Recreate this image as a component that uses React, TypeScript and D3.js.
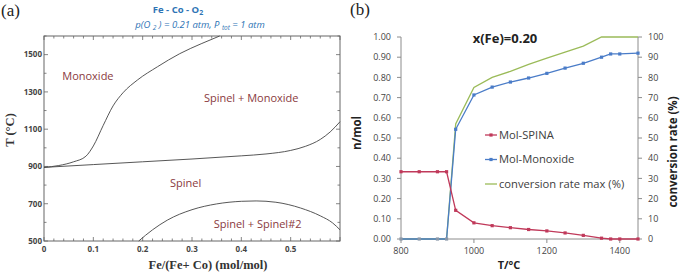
import * as React from 'react'
import * as d3 from 'd3'

// ---- panel (a): Fe-Co-O2 phase diagram boundaries (x = Fe/(Fe+Co), T in °C)
const monoxideBoundary: [number, number][] = [
    [0, 895], [0.03, 905], [0.06, 925], [0.085, 955], [0.1, 1010], [0.12, 1120],
    [0.14, 1225], [0.16, 1295], [0.19, 1365], [0.23, 1435], [0.275, 1505],
    [0.32, 1560], [0.356, 1600],
]
const spinelBoundary: [number, number][] = [
    [0, 895], [0.1, 910], [0.2, 925], [0.3, 940], [0.4, 957], [0.45, 967],
    [0.5, 986], [0.53, 1008], [0.56, 1045], [0.58, 1085], [0.6, 1140],
]
const miscibilityGap: [number, number][] = [
    [0.192, 500], [0.22, 560], [0.25, 612], [0.3, 668], [0.35, 699], [0.4, 713],
    [0.43, 715], [0.47, 708], [0.52, 677], [0.56, 635], [0.585, 597], [0.6, 560],
]
const phaseLabels = [
    { text: 'Monoxide', x: 0.089, t: 1364 },
    { text: 'Spinel + Monoxide', x: 0.42, t: 1246 },
    { text: 'Spinel', x: 0.287, t: 790 },
    { text: 'Spinel + Spinel#2', x: 0.433, t: 570 },
]
const tTicks = [500, 700, 900, 1100, 1300, 1500]
const xfTicks = [0, 0.1, 0.2, 0.3, 0.4, 0.5]

// ---- panel (b): x(Fe)=0.20
const temps = [800, 850, 900, 925, 950, 1000, 1050, 1100, 1150, 1200, 1250, 1300, 1350, 1375, 1400, 1450]
const molSpinel = [0.333, 0.333, 0.333, 0.333, 0.142, 0.08, 0.066, 0.056, 0.047, 0.04, 0.03, 0.018, 0.004, 0, 0, 0]
const molMonoxide = [0, 0, 0, 0, 0.543, 0.713, 0.752, 0.777, 0.797, 0.82, 0.846, 0.87, 0.9, 0.916, 0.916, 0.92]
const convMax = [0, 0, 0, 0, 57, 75, 80, 83, 86.5, 89.5, 92.5, 95.5, 100, 100, 100, 100]
const nTicks = [0, 0.1, 0.2, 0.3, 0.4, 0.5, 0.6, 0.7, 0.8, 0.9, 1.0]
const pctTicks = [0, 10, 20, 30, 40, 50, 60, 70, 80, 90, 100]
const tempTicks = [800, 1000, 1200, 1400]
const legendItems = [
    { name: 'Mol-SPINA', color: '#c0395a', marker: true },
    { name: 'Mol-Monoxide', color: '#4a7cc8', marker: true },
    { name: 'conversion rate max (%)', color: '#9bbb59', marker: false },
]

const LABEL_RED = '#8a3a3e'
const TITLE_BLUE = '#2e74b5'
const SANS = '"Open Sans", "Noto Sans", sans-serif'
const SERIF = '"Liberation Serif", "DejaVu Serif", serif'

function PhaseDiagram() {
    const x = d3.scaleLinear().domain([0, 0.6]).range([44, 340])
    const y = d3.scaleLinear().domain([500, 1600]).range([241, 36])
    const line = d3.line<[number, number]>()
        .x(d => x(d[0]))
        .y(d => y(d[1]))
        .curve(d3.curveMonotoneX)
    const frame = '#666'
    const minorX = d3.range(0, 0.6001, 0.02)
    const minorY = d3.range(500, 1601, 100)

    return <g>
        <text x={1} y={16} fontFamily={SERIF} fontSize={17} fill="#222">(a)</text>
        <text x={178} y={13} textAnchor="middle" fontFamily={SANS} fontSize={9.5} fontWeight="bold" fill={TITLE_BLUE}>
            Fe - Co - O<tspan fontSize={7} dy={2}>2</tspan>
        </text>
        <text x={200} y={28} textAnchor="middle" fontFamily={SANS} fontSize={9.5} fontStyle="italic" fill={TITLE_BLUE}>
            p(O <tspan fontSize={6.5} dy={2}>2</tspan><tspan dy={-2}> ) = 0.21 atm, P </tspan>
            <tspan fontSize={6.5} dy={2}>tot</tspan><tspan dy={-2}>  = 1 atm</tspan>
        </text>

        <rect x={x(0)} y={y(1600)} width={x(0.6) - x(0)} height={y(500) - y(1600)} fill="none" stroke={frame} strokeWidth={1} />
        {minorX.map((v, i) => {
            const major = Math.abs(v * 10 - Math.round(v * 10)) < 1e-6
            const len = major ? 4 : 2.5
            return <g key={i} stroke={frame} strokeWidth={0.8}>
                <line x1={x(v)} x2={x(v)} y1={y(500)} y2={y(500) - len} />
                <line x1={x(v)} x2={x(v)} y1={y(1600)} y2={y(1600) + len} />
            </g>
        })}
        {minorY.map((v, i) => {
            const len = v % 200 === 100 ? 4 : 2.5
            return <g key={i} stroke={frame} strokeWidth={0.8}>
                <line x1={x(0)} x2={x(0) + len} y1={y(v)} y2={y(v)} />
                <line x1={x(0.6)} x2={x(0.6) - len} y1={y(v)} y2={y(v)} />
            </g>
        })}
        {tTicks.map(t =>
            <text key={t} x={x(0) - 2} y={y(t)} dy="0.35em" textAnchor="end" fontFamily={SANS} fontSize={8} fontWeight="bold" fill="#444">{t}</text>
        )}
        {xfTicks.map(v =>
            <text key={v} x={x(v)} y={252} textAnchor="middle" fontFamily={SANS} fontSize={8} fontWeight="bold" fill="#444">{v}</text>
        )}

        <g fill="none" stroke="#444" strokeWidth={0.9}>
            <path d={line(monoxideBoundary)!} />
            <path d={line(spinelBoundary)!} />
            <path d={line(miscibilityGap)!} />
        </g>

        {phaseLabels.map(l =>
            <text key={l.text} x={x(l.x)} y={y(l.t)} textAnchor="middle" fontFamily={SANS} fontSize={11} fill={LABEL_RED}>{l.text}</text>
        )}

        <text x={208} y={269} textAnchor="middle" fontFamily={SERIF} fontSize={12.5} fontWeight="bold" fill="#333">Fe/(Fe+ Co) (mol/mol)</text>
        <text transform="translate(14 130) rotate(-90)" textAnchor="middle" fontFamily={SERIF} fontSize={12.5} fontWeight="bold" fill="#333">T (°C)</text>
    </g>
}

function ConversionChart() {
    const x = d3.scaleLinear().domain([800, 1450]).range([401, 638])
    const yN = d3.scaleLinear().domain([0, 1]).range([239, 37])
    const yP = d3.scaleLinear().domain([0, 100]).range([239, 37])
    const axis = '#8c8c8c'

    const lineN = d3.line<number>().x((_, i) => x(temps[i])).y(d => yN(d))
    const lineP = d3.line<number>().x((_, i) => x(temps[i])).y(d => yP(d))

    const marker = (cx: number, cy: number, color: string, key: number) =>
        <rect key={key} x={cx - 1.6} y={cy - 1.6} width={3.2} height={3.2} fill={color} />

    return <g>
        <text x={350} y={15} fontFamily={SERIF} fontSize={17} fill="#222">(b)</text>

        <g stroke={axis} strokeWidth={1}>
            <line x1={x(800)} x2={x(800)} y1={yN(0)} y2={yN(1)} />
            <line x1={x(1450)} x2={x(1450)} y1={yN(0)} y2={yN(1)} />
            <line x1={x(800)} x2={x(1450)} y1={yN(0)} y2={yN(0)} />
            {nTicks.map(v => <line key={v} x1={x(800) - 4} x2={x(800)} y1={yN(v)} y2={yN(v)} />)}
            {pctTicks.map(v => <line key={v} x1={x(1450)} x2={x(1450) + 4} y1={yP(v)} y2={yP(v)} />)}
            {tempTicks.map(v => <line key={v} x1={x(v)} x2={x(v)} y1={yN(0)} y2={yN(0) + 4} />)}
        </g>

        {nTicks.map(v =>
            <text key={v} x={391} y={yN(v)} dy="0.35em" textAnchor="end" fontFamily={SANS} fontSize={9} fill="#444">{v.toFixed(2)}</text>
        )}
        {pctTicks.map(v =>
            <text key={v} x={648} y={yP(v)} dy="0.35em" fontFamily={SANS} fontSize={9} fill="#444">{v}</text>
        )}
        {tempTicks.map(v =>
            <text key={v} x={x(v)} y={254} textAnchor="middle" fontFamily={SANS} fontSize={9} fill="#444">{v}</text>
        )}

        <g fill="none" strokeWidth={1.3}>
            <path d={lineP(convMax)!} stroke={legendItems[2].color} />
            <path d={lineN(molMonoxide)!} stroke={legendItems[1].color} />
            <path d={lineN(molSpinel)!} stroke={legendItems[0].color} />
        </g>
        {molMonoxide.map((v, i) => marker(x(temps[i]), yN(v), v === 0 ? '#8a97a8' : legendItems[1].color, i))}
        {molSpinel.map((v, i) => marker(x(temps[i]), yN(v), legendItems[0].color, i))}

        <text x={505} y={43} textAnchor="middle" fontFamily={SANS} fontSize={13} fontWeight="bold" fill="#222">x(Fe)=0.20</text>

        {legendItems.map((item, i) => {
            const cy = 135 + i * 24.5
            return <g key={item.name}>
                <line x1={485} x2={497} y1={cy} y2={cy} stroke={item.color} strokeWidth={1.3} />
                {item.marker && <rect x={489.4} y={cy - 1.6} width={3.2} height={3.2} fill={item.color} />}
                <text x={499} y={cy} dy="0.35em" fontFamily={SANS} fontSize={11.2} fill="#404040">{item.name}</text>
            </g>
        })}

        <text transform="translate(357 133) rotate(-90)" dy="0.35em" textAnchor="middle" fontFamily={SANS} fontSize={11.5} fontWeight="bold" fill="#222">n/mol</text>
        <text transform="translate(673 152) rotate(-90)" dy="0.35em" textAnchor="middle" fontFamily={SANS} fontSize={11.5} fontWeight="bold" fill="#222">conversion rate (%)</text>
        <text x={509} y={269} textAnchor="middle" fontFamily={SANS} fontSize={11} fontWeight="bold" fill="#222">T/°C</text>
    </g>
}

export default function App() {
    return <svg width={682} height={273} viewBox="0 0 682 273"
        style={{ position: 'absolute', left: 0, top: 0, background: '#fff' }}>
        <rect width={682} height={273} fill="#fff" />
        <PhaseDiagram />
        <ConversionChart />
    </svg>
}
